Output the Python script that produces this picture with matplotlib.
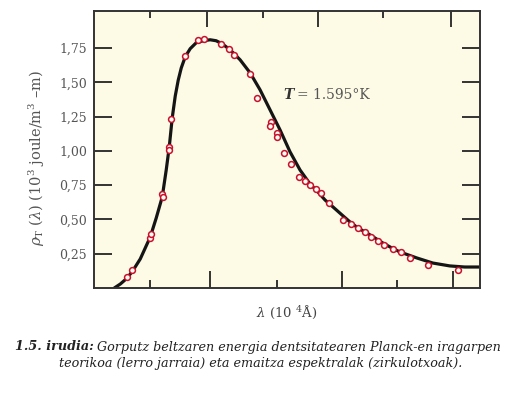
import matplotlib
matplotlib.use("Agg")
from matplotlib import pyplot as plt

# theoretical curve, lambda in 10^4 A
curve_lam = [0.406, 0.505, 0.620, 0.719, 0.835, 1.000, 1.099, 1.198, 1.264, 1.314,
             1.363, 1.413, 1.462, 1.512, 1.578, 1.660, 1.759, 1.875, 1.990, 2.089,
             2.188, 2.320, 2.485, 2.650, 2.815, 2.980, 3.145, 3.310, 3.475, 3.640,
             3.756, 3.888, 4.020, 4.168, 4.300, 4.432, 4.581, 4.713, 4.845, 4.993,
             5.125, 5.406, 5.670, 5.950, 6.198, 6.446]
curve_rho = [0.000, 0.029, 0.073, 0.131, 0.212, 0.372, 0.511, 0.664, 0.861, 1.029,
             1.240, 1.400, 1.515, 1.604, 1.686, 1.745, 1.788, 1.803, 1.810, 1.803,
             1.781, 1.737, 1.664, 1.569, 1.445, 1.299, 1.153, 0.993, 0.861, 0.759,
             0.708, 0.642, 0.591, 0.533, 0.482, 0.438, 0.401, 0.365, 0.328, 0.292,
             0.263, 0.219, 0.182, 0.161, 0.153, 0.153]

# measured points (circles)
pts_lam = [0.620, 0.703, 1.000, 1.017, 1.198, 1.215, 1.314, 1.314, 1.347, 1.578,
           1.792, 1.891, 2.172, 2.304, 2.386, 2.650, 2.766, 2.997, 2.980, 3.096,
           3.096, 3.211, 3.327, 3.459, 3.558, 3.640, 3.739, 3.822, 3.954, 4.185,
           4.317, 4.432, 4.548, 4.647, 4.762, 4.861, 5.010, 5.142, 5.290, 5.587,
           6.083]
pts_rho = [0.080, 0.131, 0.365, 0.394, 0.686, 0.664, 1.029, 1.007, 1.234, 1.693,
           1.810, 1.818, 1.781, 1.745, 1.701, 1.562, 1.387, 1.212, 1.182, 1.131,
           1.102, 0.985, 0.905, 0.810, 0.781, 0.752, 0.723, 0.693, 0.620, 0.496,
           0.467, 0.438, 0.409, 0.372, 0.343, 0.314, 0.285, 0.263, 0.219, 0.168,
           0.131]

y_ticks = [0.25, 0.50, 0.75, 1.00, 1.25, 1.50, 1.75]
y_labels = ["0,25", "0,50", "0,75", "1,00", "1,25", "1,50", "1,75"]
bottom_major = [1.99, 4.17, 6.00]
bottom_minor = [1.00, 3.09, 5.08]
top_major = [1.94, 3.77, 5.97]
top_minor = [1.00, 2.86, 4.84]

plt.rcParams['font.family'] = ['DejaVu Serif']
plt.rcParams['mathtext.fontset'] = 'dejavuserif'

fig = plt.figure(figsize=(5.21, 3.95), dpi=100)
ax = fig.add_axes([0.1804, 0.2709, 0.7409, 0.7013])
ax.set_facecolor('#fdfbe6')
ax.set_xlim(0.07, 6.45)
ax.set_ylim(0, 2.02)

ax.plot(curve_lam, curve_rho, color='#151515', lw=2.3, zorder=2,
        solid_capstyle='round', solid_joinstyle='round')
ax.plot(pts_lam, pts_rho, 'o', ms=4.2, mfc='#fffdf0', mec='#c8102e', mew=1.1, zorder=3)

dark = '#333333'
for s in ax.spines.values():
    s.set_color(dark)
    s.set_linewidth(1.4)

ax.set_yticks(y_ticks)
ax.set_yticklabels(y_labels)
ax.set_xticks(bottom_major)
ax.set_xticks(bottom_minor, minor=True)
ax.set_xticklabels([])
ax.tick_params(axis='y', direction='in', length=13, width=1.4, color=dark,
               right=True, labelsize=9, labelcolor='#555555', pad=5)
ax.tick_params(axis='x', which='major', direction='in', length=12, width=1.4, color=dark)
ax.tick_params(axis='x', which='minor', direction='in', length=6, width=1.4, color=dark)

ax2 = ax.twiny()
ax2.set_xlim(ax.get_xlim())
ax2.set_xticks(top_major)
ax2.set_xticks(top_minor, minor=True)
ax2.set_xticklabels([])
ax2.tick_params(axis='x', which='major', direction='in', length=11.5, width=1.4, color=dark)
ax2.tick_params(axis='x', which='minor', direction='in', length=5, width=1.4, color=dark)
for s in ax2.spines.values():
    s.set_visible(False)

ax.set_ylabel(r'$\rho_{\mathrm{T}}$ ($\lambda$) (10$^3$ joule/m$^3$ –m)',
              fontsize=10.5, color='#555555')
ax.yaxis.set_label_coords(-0.122, 0.47)
ax.set_xlabel(r'$\lambda$ (10 $^4$Å)', fontsize=9.5, color='#444444', labelpad=8)

ax.text(3.195, 1.409, 'T', fontsize=10, fontweight='bold', style='italic',
        color='#333333', va='center', ha='left')
ax.annotate('= 1.595°K', xy=(3.195, 1.409), xytext=(10, 0), textcoords='offset points',
            fontsize=10, color='#555555', va='center', ha='left')

fig.text(15 / 521, 1 - 347 / 395, '1.5. irudia:', fontsize=9.2, fontweight='bold',
         style='italic', va='center', ha='left', color='#222222')
fig.text(97 / 521, 1 - 347 / 395,
         'Gorputz beltzaren energia dentsitatearen Planck-en iragarpen',
         fontsize=9.2, style='italic', va='center', ha='left', color='#222222')
fig.text(0.5, 1 - 364 / 395,
         'teorikoa (lerro jarraia) eta emaitza espektralak (zirkulotxoak).',
         fontsize=9.2, style='italic', va='center', ha='center', color='#222222')

fig.savefig('out.png', dpi=100)
